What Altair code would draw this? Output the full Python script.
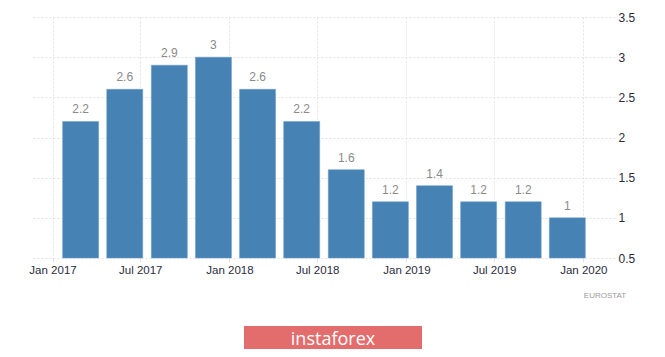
import altair as alt
import pandas as pd

# Quarterly values (bars placed mid-quarter as in the reference)
dates = ["2017-02-28", "2017-05-30", "2017-08-30", "2017-11-29",
         "2018-02-28", "2018-05-30", "2018-08-30", "2018-11-29",
         "2019-02-28", "2019-05-30", "2019-08-30", "2019-11-29"]
values = [2.2, 2.6, 2.9, 3.0, 2.6, 2.2, 1.6, 1.2, 1.4, 1.2, 1.2, 1.0]

x_ticks = ["2017-01-01", "2017-07-01", "2018-01-01", "2018-07-01",
           "2019-01-01", "2019-07-01", "2020-01-01"]
y_ticks = [0.5, 1, 1.5, 2, 2.5, 3, 3.5]
x_domain = ["2016-11-30", "2020-02-25"]
y_domain = [0.5, 3.5]

source_label = "EUROSTAT"
brand_label = "instaforex"

df = pd.DataFrame({"date": pd.to_datetime(dates), "value": values})

FONT = "Liberation Sans"
GRID = "#e3e3e3"

x = alt.X(
    "date:T",
    scale=alt.Scale(domain=[pd.Timestamp(d).isoformat() for d in x_domain]),
    axis=alt.Axis(
        title=None,
        values=[pd.Timestamp(d).isoformat() for d in x_ticks],
        format="%b %Y",
        labelFont=FONT, labelFontSize=11.5, labelColor="#2b2b3d",
        labelFlush=False, labelOverlap=False,
        grid=True, gridColor=GRID, gridDash=[2, 2],
        domain=False, tickSize=4, tickColor=GRID, labelPadding=2,
    ),
)
y = alt.Y(
    "value:Q",
    scale=alt.Scale(domain=y_domain, zero=False, nice=False),
    axis=alt.Axis(
        title=None, orient="right", values=y_ticks, format="~g",
        labelFont=FONT, labelFontSize=12, labelColor="#2b2b3d",
        grid=True, gridColor=GRID, gridDash=[2, 2],
        domain=False, tickSize=0, labelPadding=3,
    ),
)

base = alt.Chart(df)

bars = base.mark_bar(size=36, color="#4682b4", stroke="#6a9cc8", strokeWidth=0.5).encode(
    x=x, y=y, y2=alt.datum(0.5)
)

labels = base.mark_text(
    baseline="bottom", dy=-5, font=FONT, fontSize=12, color="#8a8a8a"
).encode(x="date:T", y="value:Q", text=alt.Text("value:Q", format="~g"))

src = alt.Chart(pd.DataFrame({"t": [source_label]})).mark_text(
    font=FONT, fontSize=8, color="#9a9a9a", align="center", baseline="middle"
).encode(x=alt.value(573), y=alt.value(279), text="t:N")

banner = alt.Chart(pd.DataFrame({"t": [brand_label]})).mark_rect(
    color="#e36c6c", clip=False
).encode(x=alt.value(212), x2=alt.value(390), y=alt.value(309), y2=alt.value(340))

brand = alt.Chart(pd.DataFrame({"t": [brand_label]})).mark_text(
    font="Open Sans", fontSize=18, color="white", align="center", baseline="alphabetic"
).encode(x=alt.value(301), y=alt.value(328), text="t:N")

chart = alt.layer(bars, labels, src, banner, brand).properties(
    width=583, height=241,
    autosize=alt.AutoSizeParams(type="none"),
    padding={"left": 24, "top": 9, "right": 42, "bottom": 91},
).configure_view(stroke=None)

chart.save("out.html", embed_options={"renderer": "svg", "actions": False})
